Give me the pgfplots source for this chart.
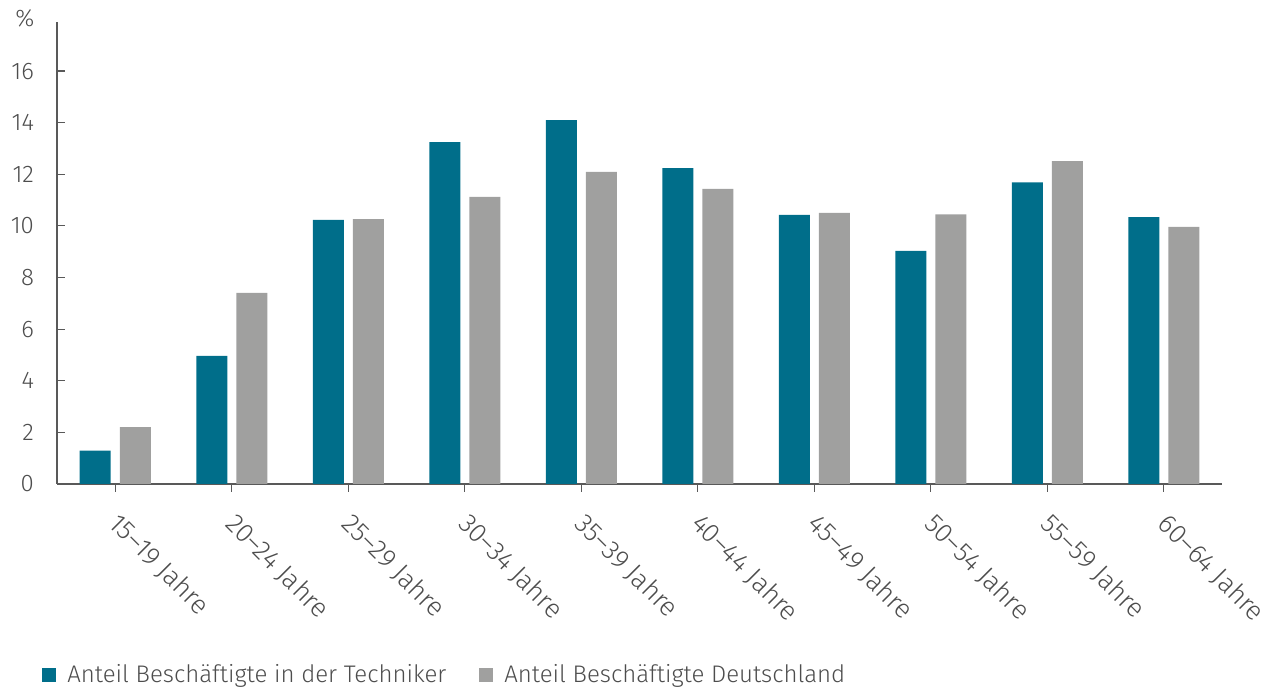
\documentclass[border=0pt]{standalone}
\usepackage{fontspec}
\setmainfont{Fira Sans Light}
\usepackage{pgfplots}
\pgfplotsset{compat=1.18}
\definecolor{tkteal}{RGB}{0,110,138}
\definecolor{tkgray}{RGB}{160,160,159}
\definecolor{axisgray}{RGB}{89,89,89}
\definecolor{textgray}{RGB}{77,77,77}
\begin{document}
\begin{tikzpicture}[x=1pt,y=1pt]
\useasboundingbox (0,0) rectangle (634.5,344.5);
\begin{axis}[
    at={(28.5pt,102.5pt)}, anchor=south west,
    scale only axis, width=582.5pt, height=231pt,
    xmin=-0.5, xmax=9.5, ymin=0, ymax=17.9,
    axis x line*=bottom, axis y line*=left,
    axis line style={axisgray, line width=0.6pt},
    ybar=4.5pt, bar width=15.5pt,
    ytick={0,2,...,16},
    xtick={0,...,9},
    xticklabels={15–19 Jahre,20–24 Jahre,25–29 Jahre,30–34 Jahre,35–39 Jahre,40–44 Jahre,45–49 Jahre,50–54 Jahre,55–59 Jahre,60–64 Jahre},
    xtick align=outside, ytick align=inside,
    major tick length=4pt,
    tick style={axisgray, line width=0.6pt},
    /pgf/number format/assume math mode=true,
    ticklabel style={font=\fontsize{12}{14}\selectfont, text=textgray},
    yticklabel style={anchor=east, xshift=-8pt},
    xticklabel style={rotate=-45, anchor=north west, xshift=5.5pt, yshift=-1pt,
        font=\fontsize{13.3}{15}\selectfont},
    legend style={at={(-0.0129,-0.413)}, anchor=west, draw=none, fill=none,
        inner sep=0pt, font=\fontsize{12}{14}\selectfont, text=textgray,
        /tikz/every even column/.append style={column sep=14.5pt}},
    legend columns=2, legend cell align=left,
    legend image code/.code={\fill[#1] (0pt,-3.5pt) rectangle (7pt,3.5pt);
        \path (10.5pt,0pt);},
  ]
\addplot[fill=tkteal, draw=none] coordinates {
(0,1.29) (1,4.96) (2,10.23) (3,13.25) (4,14.10) (5,12.24) (6,10.43) (7,9.03) (8,11.69) (9,10.34)};
\addplot[fill=tkgray, draw=none] coordinates {
(0,2.20) (1,7.40) (2,10.26) (3,11.12) (4,12.09) (5,11.43) (6,10.50) (7,10.45) (8,12.51) (9,9.96)};
\legend{Anteil Beschäftigte in der Techniker, Anteil Beschäftigte Deutschland}
\end{axis}
\node[text=textgray, font=\fontsize{12}{14}\selectfont] at (12.5,335.5) {\%};
\end{tikzpicture}
\end{document}
